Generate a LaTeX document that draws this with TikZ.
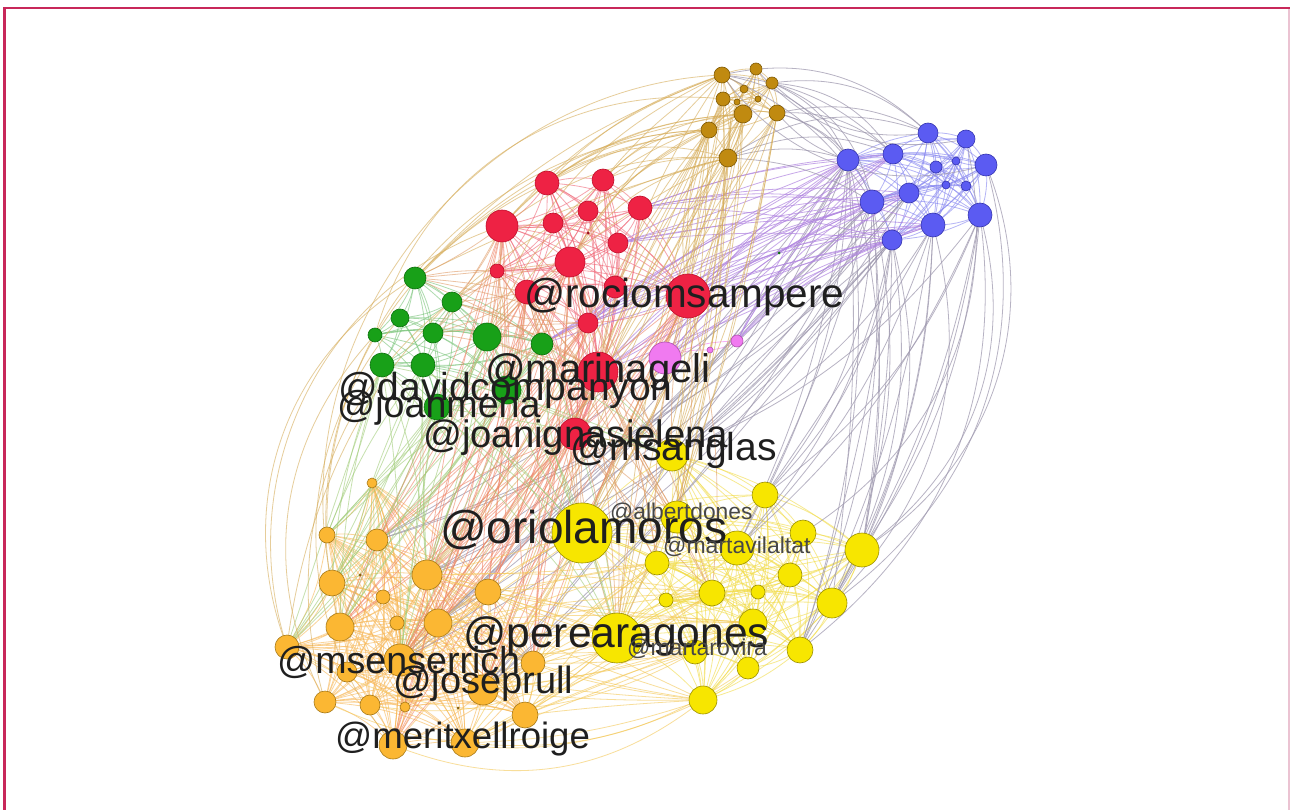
\documentclass[tikz,border=0pt]{standalone}
\usepackage{fontspec}
\setmainfont{Liberation Sans}
\pgfdeclarelayer{edges}
\pgfdeclarelayer{labels}
\pgfsetlayers{edges,main,labels}
\definecolor{framec}{HTML}{C8285A}
\definecolor{framel}{HTML}{EBC3D2}
\definecolor{nred}{HTML}{EE2244}\definecolor{nredd}{HTML}{C0102C}
\definecolor{ngreen}{HTML}{18A018}\definecolor{ngreend}{HTML}{0C700C}
\definecolor{nblue}{HTML}{5B5BF2}\definecolor{nblued}{HTML}{3535B0}
\definecolor{nbrown}{HTML}{C08A10}\definecolor{nbrownd}{HTML}{805A05}
\definecolor{npink}{HTML}{F07AF0}\definecolor{npinkd}{HTML}{B050B0}
\definecolor{nyellow}{HTML}{F7E600}\definecolor{nyellowd}{HTML}{9C9000}
\definecolor{norange}{HTML}{FBB733}\definecolor{noranged}{HTML}{A87A18}
\definecolor{ered}{HTML}{F06878}
\definecolor{egreen}{HTML}{78C478}
\definecolor{eblue}{HTML}{8484F0}
\definecolor{ebrown}{HTML}{D6AC58}
\definecolor{eyellow}{HTML}{F2DC48}
\definecolor{eorange}{HTML}{F8B858}
\definecolor{egrey}{HTML}{A09AB0}
\definecolor{epurple}{HTML}{B084E0}
\definecolor{ereddish}{HTML}{F08468}
\definecolor{egreenish}{HTML}{A0CC78}
\definecolor{emix}{HTML}{E09C68}
\definecolor{eoy}{HTML}{F4C858}
\tikzset{
  nodebase/.style={circle,inner sep=0pt,line width=0.6pt},
  redn/.style={nodebase,fill=nred,draw=nredd},
  greenn/.style={nodebase,fill=ngreen,draw=ngreend},
  bluen/.style={nodebase,fill=nblue,draw=nblued},
  brownn/.style={nodebase,fill=nbrown,draw=nbrownd},
  pinkn/.style={nodebase,fill=npink,draw=npinkd},
  yellown/.style={nodebase,fill=nyellow,draw=nyellowd},
  orangen/.style={nodebase,fill=norange,draw=noranged},
  dotn/.style={circle,inner sep=0pt,minimum size=3pt,fill=#1},
  edgebase/.style={line width=0.8pt,draw opacity=0.6},
  ered/.style={edgebase,draw=ered},
  egreen/.style={edgebase,draw=egreen},
  eblue/.style={edgebase,draw=eblue},
  ebrown/.style={edgebase,draw=ebrown},
  eyellow/.style={edgebase,draw=eyellow},
  eorange/.style={edgebase,draw=eorange},
  egrey/.style={edgebase,draw=egrey,draw opacity=0.75},
  epurple/.style={edgebase,draw=epurple,draw opacity=0.7},
  ereddish/.style={edgebase,draw=ereddish},
  egreenish/.style={edgebase,draw=egreenish},
  emix/.style={edgebase,draw=emix},
  eoy/.style={edgebase,draw=eoy},
  lab/.style={text=black!88,inner sep=0pt,anchor=base west},
  smalllab/.style={text=black!72,inner sep=0pt,anchor=base west}
}
\newcommand\mkclique[3]{%
  \foreach \i in {1,...,#2}{\foreach \j in {\i,...,#2}{%
    \ifnum\j>\i\relax\draw[#3] (#1\i.center) to[bend left=12] (#1\j.center);\fi}}}
\newcommand\xedges[4]{%
  \foreach \a in {#1}{\foreach \b in {#2}{%
    \pgfmathsetmacro\bb{#4+10*rand}%
    \draw[#3] (\a.center) to[bend left=\bb] (\b.center);}}}
\begin{document}
\begin{tikzpicture}[x=1pt,y=-1pt]
\useasboundingbox (0,0) rectangle (1290,810);
\pgfmathsetseed{7}
% nodes
\foreach \n/\x/\y/\r in {r1/547/183/12,r2/603/180/11,r3/640/208/12,r4/588/211/10,r5/553/223/10,r6/502/226/16,r7/618/243/10,r8/570/262/15,r9/497/271/7,r10/527/292/12,r11/615/287/11,r12/688/296/22,r13/588/323/10,r14/598/372/20,r15/575/434/16}
  {\pgfmathsetmacro\d{2*\r}\node[redn,minimum size=\d pt] (\n) at (\x,\y) {};}
\foreach \n/\x/\y/\r in {g1/415/278/11,g2/452/302/10,g3/400/318/9,g4/375/335/7,g5/433/333/10,g6/487/337/14,g7/542/344/11,g8/382/365/12,g9/423/365/12,g10/507/390/14,g11/437/407/13}
  {\pgfmathsetmacro\d{2*\r}\node[greenn,minimum size=\d pt] (\n) at (\x,\y) {};}
\foreach \n/\x/\y/\r in {p1/665/358/16,p2/737/341/6,p3/710/350/3}
  {\pgfmathsetmacro\d{2*\r}\node[pinkn,minimum size=\d pt] (\n) at (\x,\y) {};}
\foreach \n/\x/\y/\r in {b1/722/75/8,b2/756/69/6,b3/772/83/6,b4/723/99/7,b5/743/114/9,b6/777/113/8,b7/709/130/8,b8/728/158/9,b9/744/89/4,b10/737/102/3,b11/758/99/3}
  {\pgfmathsetmacro\d{2*\r}\node[brownn,minimum size=\d pt] (\n) at (\x,\y) {};}
\foreach \n/\x/\y/\r in {u1/848/160/11,u2/893/154/10,u3/928/133/10,u4/966/139/9,u5/986/165/11,u6/936/167/6,u7/956/161/4,u8/872/202/12,u9/909/193/10,u10/946/185/4,u11/966/186/5,u12/980/215/12,u13/933/225/12,u14/892/240/10}
  {\pgfmathsetmacro\d{2*\r}\node[bluen,minimum size=\d pt] (\n) at (\x,\y) {};}
\foreach \n/\x/\y/\r in {y1/582/533/30,y2/617/638/25,y3/672/455/16,y4/677/517/16,y5/737/548/17,y6/765/495/13,y7/803/533/13,y8/862/550/17,y9/657/563/12,y10/790/575/12,y11/712/593/13,y12/758/592/7,y13/666/600/7,y14/832/603/15,y15/753/623/14,y16/695/652/12,y17/800/650/13,y18/748/668/11,y19/703/700/14}
  {\pgfmathsetmacro\d{2*\r}\node[yellown,minimum size=\d pt] (\n) at (\x,\y) {};}
\foreach \n/\x/\y/\r in {o1/372/483/5,o2/327/535/8,o3/377/540/11,o4/332/583/13,o5/427/575/15,o6/488/592/13,o7/383/597/7,o8/340/627/14,o9/397/623/7,o10/438/623/14,o11/287/647/12,o12/400/660/16,o13/533/663/12,o14/347/672/10,o15/325/702/11,o16/370/705/10,o17/405/707/5,o18/483/690/15,o19/525/715/13,o20/393/745/14,o21/465/743/14}
  {\pgfmathsetmacro\d{2*\r}\node[orangen,minimum size=\d pt] (\n) at (\x,\y) {};}
\node[dotn=nredd!80!black] (d1) at (588,233) {};
\node[dotn=noranged!80!black] (d2) at (360,575) {};
\node[dotn=noranged!80!black] (d3) at (458,708) {};
\node[dotn=ngreend] (d4) at (779,253) {};
% edges
\begin{pgfonlayer}{edges}
\fill[white] (0,0) rectangle (1290,810);
\mkclique{r}{15}{ered}
\mkclique{g}{11}{egreen}
\mkclique{u}{14}{eblue}
\mkclique{b}{11}{ebrown}
\mkclique{y}{19}{eyellow}
\mkclique{o}{21}{eorange}
\mkclique{p}{3}{edgebase,draw=npink}
\xedges{u1,u8,u12,u13,u14}{y3,y6,y8,y14,y17,y5}{egrey}{10}
\xedges{u1,u8,u14,u9}{o3,o5,o10,o12,o18}{egrey}{8}
\xedges{u1,u2,u8,u9,u14,u13}{r12,r14,r3,r7,p1,p2,g7,r13}{epurple}{-6}
\xedges{u1,u2,u3,u8}{b1,b6,b8,b3}{egrey}{-20}
\xedges{b1,b5,b7,b8}{r1,r2,r6,r8,r12,r14,g1,g6}{ebrown}{-15}
\xedges{b4,b5,b6,b8,b7}{y1,y2,y3,y4,o5,o12,o18}{ebrown}{4}
\xedges{r6,r8,r10,r13,r14,r15,r12}{o3,o5,o6,o8,o10,o12,o13,o18,o20}{ereddish}{0}
\xedges{r8,r12,r14,r15,r10}{y1,y2,y3,y4,y9,y11}{emix}{0}
\xedges{g6,g7,g8,g9,g10,g11}{o2,o4,o5,o8,o11,o12,y1,y2,y3}{egreenish}{0}
\xedges{o5,o6,o10,o12,o13,o18,o19,o21}{y1,y2,y9,y11,y16,y19,y15}{eoy}{0}
\xedges{g1,g2,g5,g6,g7,g10}{r6,r8,r9,r10,r13,r14}{emix}{0}
\foreach \a/\b/\c in {g1/o11/-40,g4/o15/-35,r6/o11/-45,b7/o2/-45,b1/o4/-50,r1/o8/-40,g3/o20/-40,r9/o15/-38,b4/g4/-40,b8/o11/-35}
  {\draw[ebrown] (\a.center) to[bend left=\c] (\b.center);}
\foreach \a/\b/\c in {u12/y8/35,u13/y14/30,u5/y8/40,u12/y17/30,u4/y7/35,u14/y8/20,u5/y14/35}
  {\draw[egrey] (\a.center) to[bend left=\c] (\b.center);}
\foreach \a/\b/\c in {b2/u4/-30,b3/u3/-25,b1/u5/-35,b6/u1/-15}
  {\draw[egrey] (\a.center) to[bend left=\c] (\b.center);}
\foreach \a/\b/\c in {o15/y19/25,o20/y19/30,o11/y16/30,o21/y18/20,o16/y2/25}
  {\draw[eoy] (\a.center) to[bend right=\c] (\b.center);}
\end{pgfonlayer}
% labels
\begin{pgfonlayer}{labels}
\node[lab,font=\fontsize{40.5}{41}\selectfont] (l1) at (524,307) {@rociomsampere};
\node[lab,font=\fontsize{40}{40}\selectfont] (l2) at (485,382) {@marinageli};
\node[lab,font=\fontsize{39}{40}\selectfont] (l3) at (338,400) {@davidcompanyon};
\node[lab,font=\fontsize{37.6}{40}\selectfont] (l4) at (337,417) {@joanmena};
\node[lab,font=\fontsize{38.3}{40}\selectfont] (l5) at (423,447) {@joanignasielena};
\node[lab,font=\fontsize{39}{40}\selectfont] (l6) at (570,460) {@msanglas};
\node[smalllab,font=\fontsize{22.8}{24}\selectfont] (l7) at (610,519) {@albertdones};
\node[lab,font=\fontsize{46}{46}\selectfont] (l8) at (440,543) {@oriolamoros};
\node[smalllab,font=\fontsize{23}{24}\selectfont] (l9) at (663,553) {@martavilaltat};
\node[lab,font=\fontsize{42.6}{44}\selectfont] (l10) at (463,647) {@perearagones};
\node[smalllab,font=\fontsize{23}{24}\selectfont] (l11) at (627,655) {@martarovira};
\node[lab,font=\fontsize{37.6}{40}\selectfont] (l12) at (277,673) {@msenserrich};
\node[lab,font=\fontsize{38}{40}\selectfont] (l13) at (393,693) {@joseprull};
\node[lab,font=\fontsize{36.6}{40}\selectfont] (l14) at (335,748) {@meritxellroige};
% frame
\draw[framel,line width=1.2pt] (1289,8) -- (1289,810);
\draw[framec,line width=2.5pt] (4.5,810) -- (4.5,8) -- (1290,8);
\end{pgfonlayer}
\end{tikzpicture}
\end{document}
